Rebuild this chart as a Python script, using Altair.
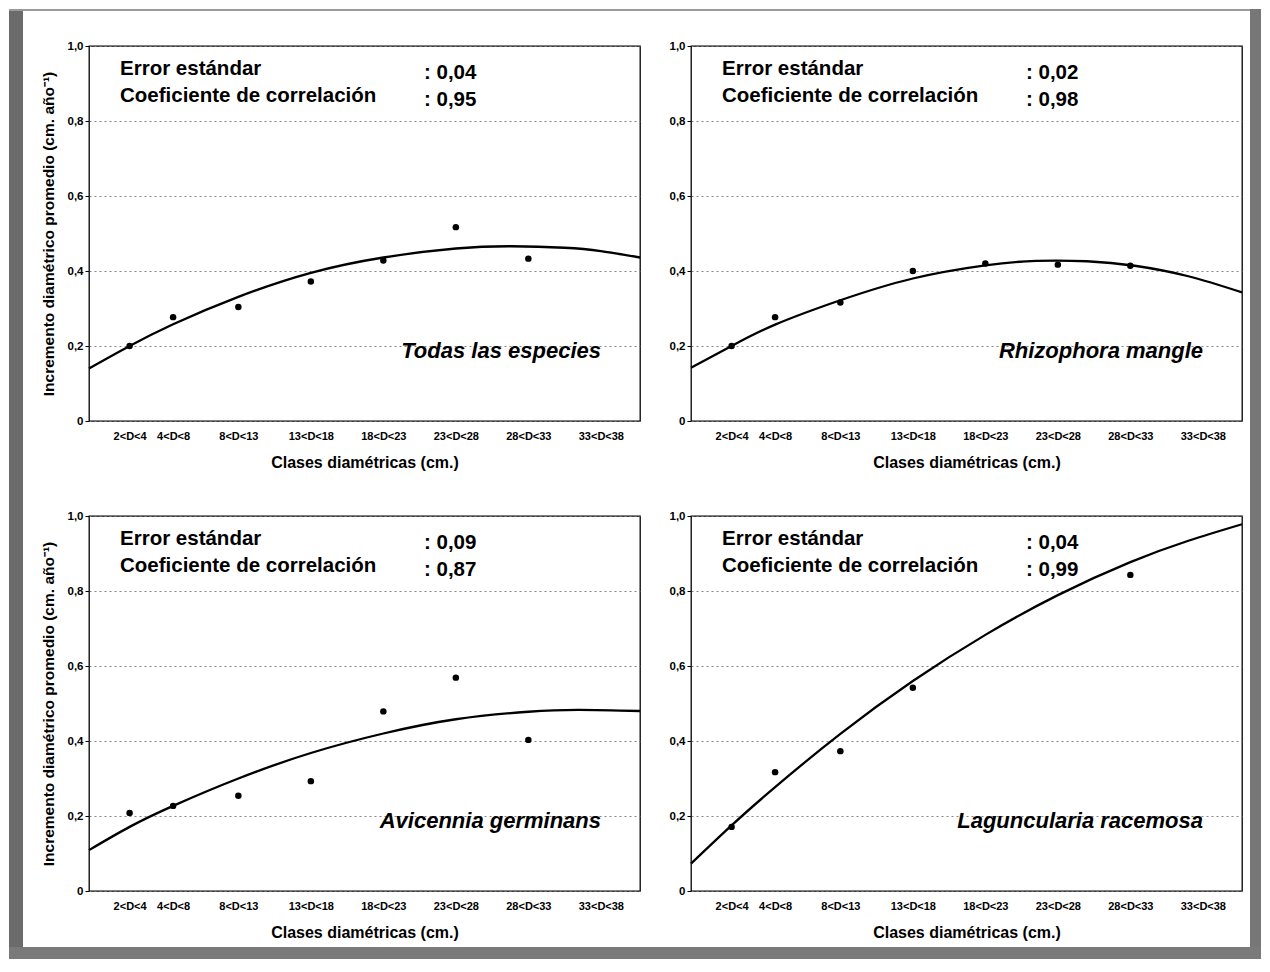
import json
import altair as alt
import pandas as pd

FONT = "Liberation Sans"

# ---- data ----
classes = ["2<D<4", "4<D<8", "8<D<13", "13<D<18", "18<D<23", "23<D<28", "28<D<33", "33<D<38"]
class_mid = [3, 6, 10.5, 15.5, 20.5, 25.5, 30.5, 35.5]
y_ticks = [0, 0.2, 0.4, 0.6, 0.8, 1.0]

species = ["Todas las especies", "Rhizophora mangle", "Avicennia germinans", "Laguncularia racemosa"]
std_error = ["0,04", "0,02", "0,09", "0,04"]
correlation = ["0,95", "0,98", "0,87", "0,99"]

# observed mean increments per diameter class
obs_todas = [0.200, 0.277, 0.304, 0.372, 0.428, 0.517, 0.433]
obs_rhizophora = [0.200, 0.277, 0.316, 0.400, 0.420, 0.417, 0.414]
obs_avicennia = [0.208, 0.227, 0.254, 0.293, 0.479, 0.569, 0.403]
lagun_class_idx = [0, 1, 2, 3, 6]
obs_laguncularia = [0.171, 0.317, 0.373, 0.542, 0.843]

# fitted curves
fit_todas_d = [0.2, 3, 6, 10.5, 15.5, 20.5, 25.5, 29.3, 33, 35.5, 38.2]
fit_todas_v = [0.140, 0.200, 0.258, 0.331, 0.395, 0.436, 0.460, 0.466, 0.462, 0.453, 0.436]
fit_rhizophora_d = [0.2, 3, 6, 10.5, 15.5, 20.5, 24, 27.5, 30.8, 34.5, 38.2]
fit_rhizophora_v = [0.142, 0.200, 0.257, 0.322, 0.380, 0.415, 0.427, 0.426, 0.414, 0.386, 0.343]
fit_avicennia_d = [0.2, 3, 6, 10.5, 15.5, 20.5, 25.5, 30.5, 34, 38.2]
fit_avicennia_v = [0.109, 0.171, 0.227, 0.300, 0.368, 0.420, 0.458, 0.478, 0.483, 0.480]
fit_laguncularia_d = [0.2, 3, 6, 10.5, 15.5, 20.5, 25.5, 30.5, 34.5, 38.2]
fit_laguncularia_v = [0.073, 0.175, 0.277, 0.419, 0.560, 0.683, 0.789, 0.877, 0.934, 0.978]

Y_TITLE = "Incremento diamétrico promedio (cm. año⁻¹)"
X_TITLE = "Clases diamétricas (cm.)"

W, H = 551, 375
XDOM = [0.2, 38.2]

x_label_expr = f"{json.dumps(classes)}[indexof({json.dumps(class_mid)}, datum.value)]"
y_label_expr = "datum.value == 0 ? '0' : replace(format(datum.value, '.1f'), '.', ',')"


def text_layer(txt, x, y, size, align="left", style="normal"):
    return alt.Chart(pd.DataFrame({"t": [txt]})).mark_text(
        align=align, baseline="alphabetic", font=FONT, fontSize=size,
        fontWeight="bold", fontStyle=style, color="black"
    ).encode(x=alt.value(x), y=alt.value(y), text="t:N")


def rect_layer(x1, x2, y1, y2, color):
    return alt.Chart(pd.DataFrame({"k": [0]})).mark_rect(color=color).encode(
        x=alt.value(x1), x2=alt.value(x2), y=alt.value(y1), y2=alt.value(y2)
    )


def make_panel(i, obs_d, obs_v, fit_d, fit_v, left_col, with_frame):
    xscale = alt.Scale(domain=XDOM, nice=False, zero=False)
    yscale = alt.Scale(domain=[0, 1], nice=False)
    xaxis = alt.Axis(
        values=class_mid, labelExpr=x_label_expr, title=X_TITLE, grid=False,
        ticks=False, tickSize=0, domain=False, labelPadding=9, labelAngle=0,
        labelOverlap=False, labelFont=FONT, labelFontSize=11, labelFontWeight="bold",
        labelColor="black", titleFont=FONT, titleFontSize=16, titleFontWeight="bold",
        titleColor="black", titlePadding=13,
    )
    ykw = dict(
        values=y_ticks, labelExpr=y_label_expr, grid=True, gridDash=[2, 3],
        gridColor="#777777", gridWidth=0.9, tickSize=4, tickColor="black",
        domain=False, labelPadding=2, labelFont=FONT, labelFontSize=11.5,
        labelFontWeight="bold", labelColor="black",
    )
    if left_col:
        ykw.update(title=Y_TITLE, titleFont=FONT, titleFontSize=15.5,
                   titleFontWeight="bold", titleColor="black", titlePadding=11)
    else:
        ykw.update(title="")
    yaxis = alt.Axis(**ykw)

    fit = pd.DataFrame({"d": fit_d, "v": fit_v})
    pts = pd.DataFrame({"d": obs_d, "v": obs_v})

    line = alt.Chart(fit).mark_line(color="black", strokeWidth=2.3, interpolate="natural").encode(
        x=alt.X("d:Q", scale=xscale, axis=xaxis),
        y=alt.Y("v:Q", scale=yscale, axis=yaxis),
    )
    points = alt.Chart(pts).mark_circle(color="black", size=42, opacity=1).encode(
        x=alt.X("d:Q", scale=xscale),
        y=alt.Y("v:Q", scale=yscale),
    )
    layers = []
    if with_frame:
        # scanned page frame (pixel offsets relative to this panel)
        layers += [
            rect_layer(-80, -66, -37, 913, "#6b6b6b"),
            rect_layer(-80, 1172, -37, -35, "#9a9a9a"),
            rect_layer(1161, 1172, -37, 913, "#777777"),
            rect_layer(-80, 1172, 901, 913, "#7a7a7a"),
        ]
    layers += [
        line,
        points,
        text_layer("Error estándar", 31, 29, 20.5),
        text_layer("Coeficiente de correlación", 31, 56, 20.5),
        text_layer(": " + std_error[i], 335, 32.5, 20.5),
        text_layer(": " + correlation[i], 335, 59.5, 20.5),
        text_layer(species[i], 512, 312, 22, align="right", style="italic"),
    ]
    return alt.layer(*layers).properties(width=W, height=H)


p1 = make_panel(0, class_mid[:7], obs_todas, fit_todas_d, fit_todas_v, True, True)
p2 = make_panel(1, class_mid[:7], obs_rhizophora, fit_rhizophora_d, fit_rhizophora_v, False, False)
p3 = make_panel(2, class_mid[:7], obs_avicennia, fit_avicennia_d, fit_avicennia_v, True, False)
p4 = make_panel(3, [class_mid[k] for k in lagun_class_idx], obs_laguncularia,
                fit_laguncularia_d, fit_laguncularia_v, False, False)

chart = alt.concat(
    p1, p2, p3, p4, columns=2,
    spacing=alt.RowColnumber(row=95, column=51),
    bounds="flush",
).properties(padding=0, background="white").configure_view(
    stroke="black", strokeWidth=1.3
)

chart.save("out.html", embed_options={"renderer": "svg", "actions": False})
